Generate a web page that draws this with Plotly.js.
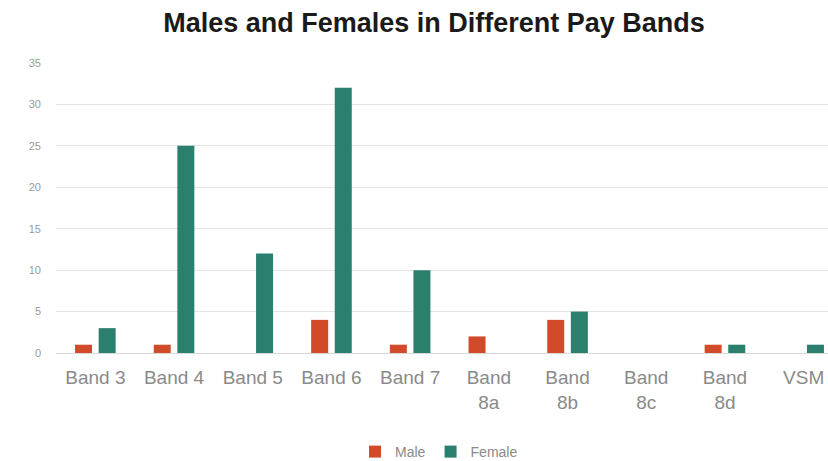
<!DOCTYPE html>
<html>
<head>
<meta charset="utf-8">
<script src="https://cdn.plot.ly/plotly-3.0.1.min.js"></script>
<style>html,body{margin:0;padding:0;background:#fff;overflow:hidden;}#chart{width:828px;height:461px;}</style>
</head>
<body>
<div id="chart"></div>
<script>
const categories = ["Band 3","Band 4","Band 5","Band 6","Band 7","Band 8a","Band 8b","Band 8c","Band 8d","VSM"];
const tickLabels = ["Band 3","Band 4","Band 5","Band 6","Band 7","Band<br>8a","Band<br>8b","Band<br>8c","Band<br>8d","VSM"];
const maleValues = [1,1,0,4,1,2,4,0,1,0];
const femaleValues = [3,25,12,32,10,0,5,0,1,1];
const yTicks = [0,5,10,15,20,25,30,35];

const traces = [
  {type:'bar', name:'Male', x:categories, y:maleValues, marker:{color:'#D14B2A'}},
  {type:'bar', name:'Female', x:categories, y:femaleValues, marker:{color:'#2B7F6D'}}
];
const layout = {
  width:828, height:461,
  margin:{l:56, r:0, t:63, b:108},
  paper_bgcolor:'#fff', plot_bgcolor:'#fff',
  font:{family:'Liberation Sans, Arial, sans-serif', color:'#8a8a8a'},
  title:{text:'<b>Males and Females in Different Pay Bands</b>', x:434/828, xref:'container', xanchor:'center', y:1-23/461, yref:'container', yanchor:'middle', font:{size:27, color:'#1a1a1a', family:'Liberation Sans, Arial, sans-serif'}},
  barmode:'group', bargap:0.4, bargroupgap:0.28,
  xaxis:{type:'category', range:[-0.5, 9.5-(843-828)/78.7], tickmode:'array', tickvals:categories, ticktext:tickLabels, tickfont:{size:19, color:'#8a8a8a'}, showgrid:false, showline:false, ticks:'', zeroline:false, ticklabelstandoff:11},
  yaxis:{range:[0,35], tickmode:'array', tickvals:yTicks, tickfont:{size:11, color:'#9a9a9a'}, showgrid:true, gridcolor:'#e4e4e4', gridwidth:1, zeroline:true, zerolinecolor:'#d9d9d9', zerolinewidth:1, showline:false, ticks:'', ticklabelstandoff:14},
  legend:{orientation:'h', xref:'container', yref:'container', x:439/828, xanchor:'center', y:1-452/461, yanchor:'middle', font:{size:14, color:'#8a8a8a'}, itemwidth:30, tracegroupgap:0},
  showlegend:true
};
Plotly.newPlot('chart', traces, layout, {displayModeBar:false, staticPlot:true});
</script>
</body>
</html>
